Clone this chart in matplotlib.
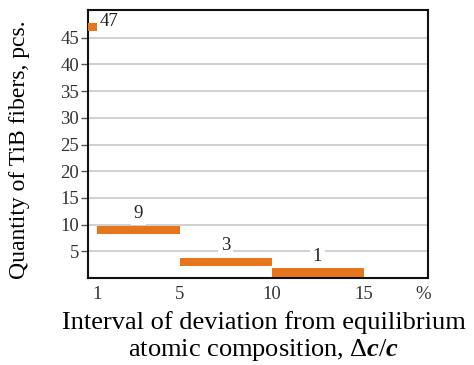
import matplotlib.pyplot as plt

# deviation intervals (in %) and number of TiB fibers in each
intervals = ['0-1', '1-5', '5-10', '10-15']
counts = [47, 9, 3, 1]
tick_labels = ['1', '5', '10', '15', '%']

# axis positions of interval edges (the axis is not to scale)
edges = [0, 0.1, 1, 2, 3]
tick_pos = [0.1, 1, 2, 3, 3.65]

plt.rcParams['font.family'] = 'Liberation Serif'
plt.rcParams['mathtext.fontset'] = 'custom'
plt.rcParams['mathtext.rm'] = 'Liberation Serif'
plt.rcParams['mathtext.it'] = 'Liberation Serif:italic:bold'

fig = plt.figure(figsize=(4.74, 3.65), dpi=100)
ax = fig.add_axes([0.1846, 0.2384, 0.7184, 0.7342])

lefts = edges[:-1]
widths = [edges[i + 1] - edges[i] for i in range(len(counts))]
ax.barh(counts, widths, left=lefts, height=1.6, color='#e5761e', zorder=3)

for i, c in enumerate(counts):
    if i == 0:
        ax.text(edges[1] + 0.03, c + 1.0, str(c), ha='left', va='center',
                fontsize=13.5, color='#222222', zorder=4)
    else:
        ax.text(lefts[i] + widths[i] / 2, c + 3, str(c), ha='center', va='center',
                fontsize=13.5, color='#222222', zorder=4,
                bbox=dict(facecolor='white', edgecolor='none', pad=2))

ax.set_xlim(0, 3.7)
ax.set_ylim(0, 50.2)
ax.set_yticks(range(5, 50, 5))
ax.set_xticks(tick_pos)
ax.set_xticklabels(tick_labels)
ax.tick_params(axis='x', length=0, labelsize=13.5, labelcolor='#333333', pad=6)
ax.tick_params(axis='y', length=5, width=1, color='#555555', labelsize=13.5,
               labelcolor='#333333', pad=1)
ax.grid(axis='y', color='#c8c8c8', linewidth=1.2, zorder=0)
for s in ax.spines.values():
    s.set_linewidth(1.5)
    s.set_color('#111111')

ax.set_ylabel('Quantity of TiB fibers, pcs.', fontsize=17)
ax.yaxis.set_label_coords(-0.17, 0.48)
ax.set_xlabel('Interval of deviation from equilibrium\natomic composition, $\\Delta c/c$',
              fontsize=19, linespacing=1.12)
ax.xaxis.set_label_coords(0.518, -0.125)

fig.savefig('out.png', dpi=100)
